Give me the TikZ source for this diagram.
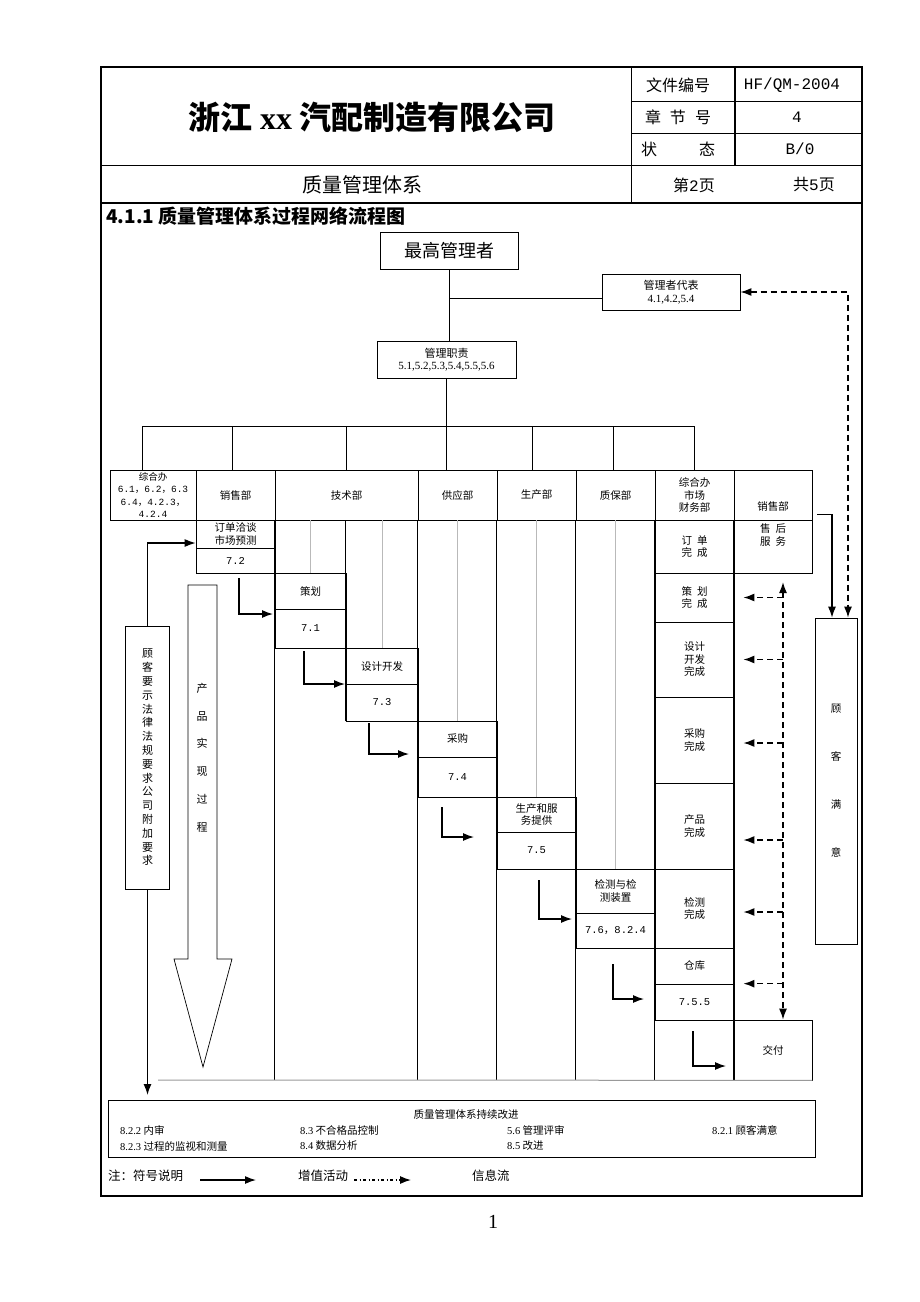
\documentclass[tikz,border=0pt]{standalone}
\usepackage{fontspec}
\usetikzlibrary{arrows.meta}
\setmainfont{Liberation Serif}
\setmonofont{Liberation Mono}
\newfontfamily\cjk{Noto Sans CJK SC}
\newcommand\nm[1]{{\ttfamily #1}}

\begin{document}
\begin{tikzpicture}[x=1pt,y=-1pt,>={Latex[length=11pt,width=8pt]},
  cell/.style={draw,line width=0.7pt,inner sep=0pt,align=center,
    font=\cjk\fontsize{10.5}{12.5}\selectfont},
  txt/.style={inner sep=0pt,align=center,font=\cjk\fontsize{10.5}{12.5}\selectfont},
  hdtxt/.style={inner sep=0pt,font=\cjk\fontsize{16}{18}\selectfont},
  flow/.style={->,line width=1.3pt},
  info/.style={line width=1.5pt,dash pattern=on 6pt off 4pt},
  lane/.style={gray!55,line width=0.7pt}]
\useasboundingbox (0,0) rectangle (920,1302);
% page frame and header table
\draw[line width=2.4pt] (101,67) rectangle (862,1196);
\draw[line width=0.9pt] (101,165) -- (862,165);
\draw[line width=1.6pt] (101,203) -- (862,203);
\draw[line width=0.9pt] (631,67) -- (631,203);
\draw[line width=2.4pt] (735,67) -- (735,165);
\draw[line width=0.9pt] (631,101) -- (862,101);
\draw[line width=0.9pt] (631,133) -- (862,133);
\node[font=\cjk\bfseries\fontsize{32}{36}\selectfont] (title) at (372,117) {浙江 {\rmfamily xx} 汽配制造有限公司};
\node[hdtxt] (docno) at (678,85) {文件编号};
\node[hdtxt] (chap) at (678,117) {章\hspace{9pt}节\hspace{9pt}号};
\node[hdtxt] (stat) at (678,149) {状\hspace{42pt}态};
\node[hdtxt,font=\ttfamily\fontsize{16}{18}\selectfont] (docnov) at (792,85) {HF/QM-2004};
\node[hdtxt,font=\ttfamily\fontsize{16}{18}\selectfont] (chapv) at (797,117) {4};
\node[hdtxt,font=\ttfamily\fontsize{16}{18}\selectfont] (statv) at (800,149) {B/0};
\node[hdtxt,font=\cjk\fontsize{20}{22}\selectfont] (sys) at (362,185) {质量管理体系};
\node[hdtxt] (pg) at (694,185) {第{\ttfamily 2}页};
\node[hdtxt] (pgs) at (814,185) {共{\ttfamily 5}页};
\node[anchor=west,inner sep=0pt,font=\cjk\bfseries\fontsize{19}{21}\selectfont] (head) at (106,216) {4.1.1 质量管理体系过程网络流程图};

% departments
\node[cell,font=\cjk\fontsize{9.5}{12.5}\selectfont,minimum width=86pt,minimum height=50pt] (hd1) at (153,495)
  {综合办\\\nm{6.1}，\nm{6.2}，\nm{6.3}\\\nm{6.4}，\nm{4.2.3}，\\\nm{4.2.4}};
\node[cell,minimum width=79pt,minimum height=50pt] (hd2) at (235.5,495) {销售部};
\node[cell,minimum width=143pt,minimum height=50pt] (hd3) at (346.5,495) {技术部};
\node[cell,minimum width=79pt,minimum height=50pt] (hd4) at (457.5,495) {供应部};
\node[cell,minimum width=79pt,minimum height=50pt] (hd5) at (536.5,495) {生产部};
\node[cell,minimum width=79pt,minimum height=50pt] (hd6) at (615.5,495) {质保部};
\node[cell,minimum width=79pt,minimum height=50pt] (hd7) at (694.5,495) {综合办\\市场\\财务部};
\node[cell,minimum width=78pt,minimum height=50pt] (hd8) at (773,495) {};
\node[txt] (hd8t) at (773,506) {销售部};

% management tree
\node[cell,font=\cjk\fontsize{18}{20}\selectfont,minimum width=138pt,minimum height=37pt] (top) at (449,250.5) {最高管理者};
\node[cell,font=\cjk\fontsize{11}{12.5}\selectfont,minimum width=138pt,minimum height=36pt] (rep) at (671,292)
  {管理者代表\\{\rmfamily 4.1,4.2,5.4}};
\node[cell,font=\cjk\fontsize{11}{12}\selectfont,minimum width=139pt,minimum height=37pt] (duty) at (446.5,359.5)
  {管理职责\\{\rmfamily 5.1,5.2,5.3,5.4,5.5,5.6}};
\coordinate (bus) at (0,426);
\draw[line width=0.8pt] (top.south) -- (top.south |- duty.north);
\draw[line width=0.8pt] ([yshift=-6pt]rep.west) -- ([yshift=-6pt]rep.west -| top.south);
\draw[line width=0.8pt] (duty.south) -- (duty.south |- hd4.north);
\draw[line width=0.8pt] ([xshift=-11pt]hd1.north |- bus) -- (hd7.north |- bus);
\draw[line width=0.8pt] ([xshift=-11pt]hd1.north) -- ([xshift=-11pt]hd1.north |- bus);
\draw[line width=0.8pt] ([xshift=-3.5pt]hd2.north) -- ([xshift=-3.5pt]hd2.north |- bus);
\draw[line width=0.8pt] (hd3.north) -- (hd3.north |- bus);
\draw[line width=0.8pt] ([xshift=-4.5pt]hd5.north) -- ([xshift=-4.5pt]hd5.north |- bus);
\draw[line width=0.8pt] ([xshift=-2.5pt]hd6.north) -- ([xshift=-2.5pt]hd6.north |- bus);
\draw[line width=0.8pt] (hd7.north) -- (hd7.north |- bus);

% process steps
\node[cell,minimum width=79pt,minimum height=28pt] (s1a) at (235.5,534) {订单洽谈\\市场预测};
\node[cell,minimum width=79pt,minimum height=25pt] (s1b) at (235.5,560.5) {\nm{7.2}};
\node[cell,minimum width=71pt,minimum height=36pt] (s2a) at (310.5,591) {策划};
\node[cell,minimum width=71pt,minimum height=39pt] (s2b) at (310.5,628.5) {\nm{7.1}};
\node[cell,minimum width=72pt,minimum height=36pt] (s3a) at (382,666) {设计开发};
\node[cell,minimum width=72pt,minimum height=37pt] (s3b) at (382,702.5) {\nm{7.3}};
\node[cell,minimum width=79pt,minimum height=36pt] (s4a) at (457.5,739) {采购};
\node[cell,minimum width=79pt,minimum height=40pt] (s4b) at (457.5,777) {\nm{7.4}};
\node[cell,minimum width=79pt,minimum height=35pt] (s5a) at (536.5,814.5) {生产和服\\务提供};
\node[cell,minimum width=79pt,minimum height=37pt] (s5b) at (536.5,850.5) {\nm{7.5}};
\node[cell,minimum width=79pt,minimum height=44pt] (s6a) at (615.5,891) {检测与检\\测装置};
\node[cell,minimum width=79pt,minimum height=35pt] (s6b) at (615.5,930.5) {\nm{7.6}，\nm{8.2.4}};
\node[cell,minimum width=79pt,minimum height=36pt] (s7a) at (694.5,966) {仓库};
\node[cell,minimum width=79pt,minimum height=36pt] (s7b) at (694.5,1002) {\nm{7.5.5}};
\node[cell,minimum width=78pt,minimum height=60pt] (s8) at (773,1050) {交付};

% completion column
\node[cell,minimum width=79pt,minimum height=53pt] (c1) at (694.5,546.5) {订\hspace{5pt}单\\完\hspace{5pt}成};
\node[cell,minimum width=79pt,minimum height=49pt] (c2) at (694.5,597.5) {策\hspace{5pt}划\\完\hspace{5pt}成};
\node[cell,minimum width=79pt,minimum height=75pt] (c3) at (694.5,659.5) {设计\\开发\\完成};
\node[cell,minimum width=79pt,minimum height=86pt] (c4) at (694.5,740) {采购\\完成};
\node[cell,minimum width=79pt,minimum height=86pt] (c5) at (694.5,826) {产品\\完成};
\node[cell,minimum width=79pt,minimum height=79pt] (c6) at (694.5,908.5) {检测\\完成};
\node[cell,minimum width=78pt,minimum height=53pt] (a1) at (773,546.5) {};
\node[txt] (a1t) at (773,535) {售\hspace{5pt}后\\服\hspace{5pt}务};

% lane lines
\draw[line width=0.7pt] (hd3.south west) -- (hd3.south west |- s8.south);
\draw[line width=0.7pt] (hd4.south west) -- (hd4.south west |- s8.south);
\draw[line width=0.7pt] (hd5.south west) -- (hd5.south west |- s8.south);
\draw[line width=0.7pt] (hd6.south west) -- (hd6.south west |- s8.south);
\draw[line width=0.7pt] (hd7.south west) -- (hd7.south west |- s8.south);
\draw[line width=0.7pt] (hd8.south west) -- (hd8.south west |- s8.south);
\draw[line width=0.7pt] (s3b.south west) -- (s3b.south west |- hd3.south);
\draw[lane] (s2a.north |- hd3.south) -- (s2a.north);
\draw[lane] (s3a.north |- hd3.south) -- (s3a.north);
\draw[lane] (hd4.south) -- (s4a.north);
\draw[lane] (hd5.south) -- (s5a.north);
\draw[lane] (hd6.south) -- (s6a.north);
\coordinate (bl) at (158,1080);
\draw[gray!80,line width=1pt] (bl) -- (s8.south east);

% customer boxes
\node[cell,font=\cjk\fontsize{11}{13.8}\selectfont,minimum width=44pt,minimum height=263pt] (req) at (147.5,757.5)
  {顾\\客\\要\\示\\法\\律\\法\\规\\要\\求\\公\\司\\附\\加\\要\\求};
\node[cell,font=\cjk\fontsize{10.5}{48}\selectfont,minimum width=42pt,minimum height=326pt] (sat) at (836,781)
  {顾\\客\\满\\意};

% product realisation arrow
\draw[line width=0.7pt] (188,585) -- (217,585) -- (217,959) -- (232,959) -- (203,1067) -- (174,959) -- (188,959) -- cycle;
\node[txt,font=\cjk\fontsize{11}{27.8}\selectfont] (real) at (202,757.5) {产\\品\\实\\现\\过\\程};

% value adding arrows
\coordinate (k2) at (239,578); \coordinate (t2) at (273,614);
\coordinate (k3) at (304,651); \coordinate (t3) at (345,684);
\coordinate (k4) at (369,723); \coordinate (t4) at (409,754);
\coordinate (k5) at (442,807); \coordinate (t5) at (474,837);
\coordinate (k6) at (539,880); \coordinate (t6) at (572,919);
\coordinate (k7) at (613,964); \coordinate (t7) at (644,999);
\coordinate (k8) at (693,1031); \coordinate (t8) at (726,1066);
\draw[flow] (req.north) |- ([yshift=-9pt]s1a.west);
\draw[flow] (k2) |- (t2);
\draw[flow] (k3) |- (t3);
\draw[flow] (k4) |- (t4);
\draw[flow] (k5) |- (t5);
\draw[flow] (k6) |- (t6);
\draw[flow] (k7) |- (t7);
\draw[flow] (k8) |- (t8);
\draw[flow,shorten >=5pt] (req.south) -- (req.south |- 0,1100);
\draw[flow] ([shift={(5pt,5pt)}]a1.north east) -| ([xshift=-4pt]sat.north);

% information flow
\draw[info,<->] (rep.east) -| ([xshift=12pt]sat.north);
\coordinate (vtop) at (783,582);
\draw[info,<->] (vtop) -- ([xshift=10pt]s8.north);
\draw[info,->] (c2.east -| vtop) -- ([xshift=9pt]c2.east);
\draw[info,->] (c3.east -| vtop) -- ([xshift=9pt]c3.east);
\draw[info,->] ([yshift=-3pt]c4.east -| vtop) -- ([shift={(9pt,-3pt)}]c4.east);
\draw[info,->] ([yshift=-14pt]c5.east -| vtop) -- ([shift={(9pt,-14pt)}]c5.east);
\draw[info,->] ([yshift=-3.5pt]c6.east -| vtop) -- ([shift={(9pt,-3.5pt)}]c6.east);
\draw[info,->] (s7b.north east -| vtop) -- ([xshift=9pt]s7b.north east);

% continual improvement
\node[draw,line width=0.8pt,minimum width=707pt,minimum height=57pt] (imp) at (461.5,1128.5) {};
\node[txt] (impt) at (466,1114) {质量管理体系持续改进};
\node[txt,anchor=west] (i1) at (120,1130) {{\rmfamily 8.2.2}\ 内审};
\node[txt,anchor=west] (i2) at (300,1130) {{\rmfamily 8.3}\ 不合格品控制};
\node[txt,anchor=west] (i3) at (507,1130) {{\rmfamily 5.6}\ 管理评审};
\node[txt,anchor=west] (i4) at (712,1130) {{\rmfamily 8.2.1}\ 顾客满意};
\node[txt,anchor=west] (i5) at (120,1146) {{\rmfamily 8.2.3}\ 过程的监视和测量};
\node[txt,anchor=west] (i6) at (300,1146) {{\rmfamily 8.4}\ 数据分析};
\node[txt,anchor=west] (i7) at (507,1146) {{\rmfamily 8.5}\ 改进};

% legend
\node[txt,anchor=west,font=\cjk\fontsize{12.5}{14}\selectfont] (note) at (108,1176) {注：符号说明};
\coordinate (la) at (200,1180); \coordinate (lb) at (256,1180);
\draw[flow] (la) -- (lb);
\node[txt,anchor=west,font=\cjk\fontsize{12.5}{14}\selectfont] (lva) at (298,1176) {增值活动};
\coordinate (lc) at (354,1180); \coordinate (ld) at (411,1180);
\draw[->,line width=1.2pt,dash pattern=on 3pt off 2.5pt on 1pt off 2.5pt] (lc) -- (ld);
\node[txt,anchor=west,font=\cjk\fontsize{12.5}{14}\selectfont] (lif) at (472,1176) {信息流};

\node[font=\rmfamily\fontsize{20}{22}\selectfont] (pgno) at (493,1222) {1};
\end{tikzpicture}
\end{document}
